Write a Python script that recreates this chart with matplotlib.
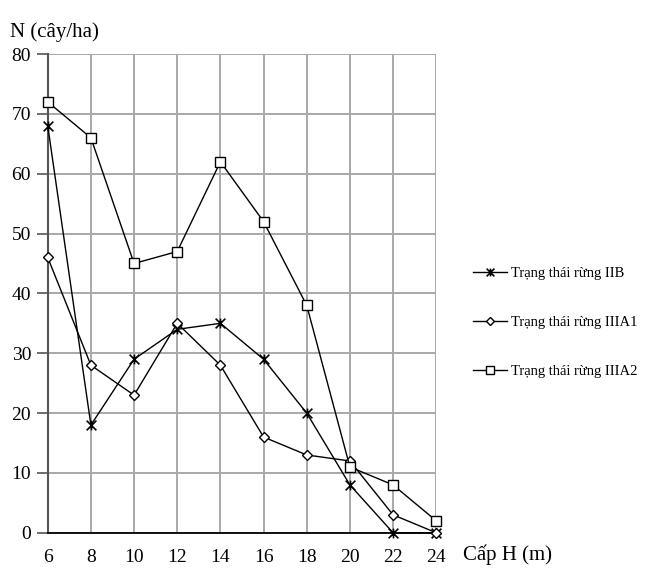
import matplotlib
matplotlib.use("Agg")
import matplotlib.pyplot as plt
from matplotlib.path import Path

plt.rcParams['font.family'] = ['Liberation Serif', 'DejaVu Serif']

# Cấp chiều cao (m)
heights = [6, 8, 10, 12, 14, 16, 18, 20, 22, 24]

# Mật độ N (cây/ha) theo trạng thái rừng
n_iib = [68, 18, 29, 34, 35, 29, 20, 8, 0, 0]
n_iiia1 = [46, 28, 23, 35, 28, 16, 13, 12, 3, 0]
n_iiia2 = [72, 66, 45, 47, 62, 52, 38, 11, 8, 2]

labels = ['Trạng thái rừng IIB', 'Trạng thái rừng IIIA1', 'Trạng thái rừng IIIA2']
y_ticks = [0, 10, 20, 30, 40, 50, 60, 70, 80]

# dấu "ж": chữ x cộng một vạch đứng
star_x = Path([(-1, -1), (1, 1), (-1, 1), (1, -1), (0, -1), (0, 1)],
              [Path.MOVETO, Path.LINETO, Path.MOVETO, Path.LINETO, Path.MOVETO, Path.LINETO])

fig = plt.figure(figsize=(6.54, 5.81), dpi=100)
ax = fig.add_axes([0.073, 0.083, 0.594, 0.824])

line_kw = dict(color='black', linewidth=1.0, clip_on=False, zorder=3)
h1, = ax.plot(heights, n_iib, marker=star_x, markersize=7, markeredgewidth=1.2,
              label=labels[0], **line_kw)
h2, = ax.plot(heights, n_iiia1, marker='D', markersize=5.5, markerfacecolor='white',
              markeredgecolor='black', label=labels[1], **line_kw)
h3, = ax.plot(heights, n_iiia2, marker='s', markersize=7, markerfacecolor='white',
              markeredgecolor='black', label=labels[2], **line_kw)

ax.set_xlim(6, 24)
ax.set_ylim(0, 80)
ax.set_xticks(heights)
ax.set_yticks(y_ticks)
ax.grid(True, color='#a8a8a8', linewidth=1.4)
ax.set_axisbelow(True)

for s in ['top', 'right']:
    ax.spines[s].set_visible(False)
ax.spines['left'].set_color('#555555')
ax.spines['left'].set_linewidth(1.5)
ax.spines['bottom'].set_color('black')
ax.spines['bottom'].set_linewidth(1.3)

ax.tick_params(axis='y', length=8, width=1.2, color='#555555', labelsize=14, pad=4)
ax.tick_params(axis='x', length=0, labelsize=14, pad=12)

fig.text(0.015, 0.945, 'N (cây/ha)', fontsize=15, ha='left', va='center')
fig.text(0.708, 0.045, 'Cấp H (m)', fontsize=15, ha='left', va='center')

fig.legend(handles=[h1, h2, h3], loc='center left', bbox_to_anchor=(0.715, 0.445),
           frameon=False, fontsize=10.5, handlelength=2.3, handletextpad=0.3,
           labelspacing=2.45, borderaxespad=0, markerscale=0.8)

fig.savefig('out.png', dpi=100)
